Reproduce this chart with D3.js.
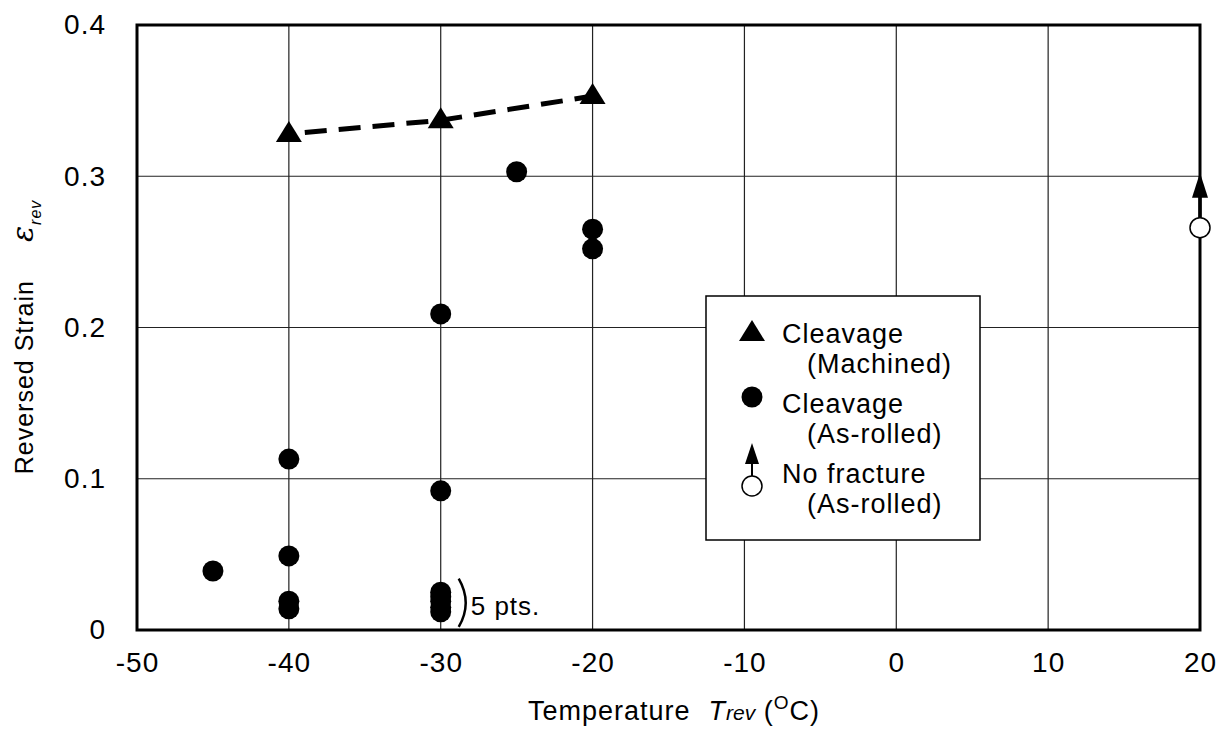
<!DOCTYPE html>
<html>
<head>
<meta charset="utf-8">
<script src="https://cdn.jsdelivr.net/npm/d3@7"></script>
<style>
  body { margin: 0; background: #fff; }
  text { font-family: "Liberation Sans", Arial, sans-serif; fill: #000; letter-spacing: 1px; }
</style>
</head>
<body>
<script>
// data
var xTicks = [-50, -40, -30, -20, -10, 0, 10, 20];
var yTicks = [0, 0.1, 0.2, 0.3, 0.4];

var machinedTemp = [-40, -30, -20];
var machinedStrain = [0.328, 0.337, 0.353];

var rolledTemp = [-45, -40, -40, -40, -40, -30, -30, -30, -30, -30, -30, -30, -25, -20, -20];
var rolledStrain = [0.039, 0.113, 0.049, 0.019, 0.014, 0.209, 0.092, 0.025, 0.022, 0.019, 0.015, 0.012, 0.303, 0.265, 0.252];

var noFracTemp = [20];
var noFracStrain = [0.266];

var legendText = [["Cleavage", "(Machined)"], ["Cleavage", "(As-rolled)"], ["No fracture", "(As-rolled)"]];

var width = 1229, height = 736;
var pLeft = 137, pRight = 1200, pTop = 25, pBottom = 630;

var x = d3.scaleLinear().domain([-50, 20]).range([pLeft, pRight]);
var y = d3.scaleLinear().domain([0, 0.4]).range([pBottom, pTop]);

var svg = d3.select("body").append("svg")
    .attr("width", width)
    .attr("height", height);

// grid
svg.append("g").selectAll("line")
    .data(xTicks.slice(1, -1))
    .enter().append("line")
    .attr("x1", function(d) { return x(d); })
    .attr("x2", function(d) { return x(d); })
    .attr("y1", pTop).attr("y2", pBottom)
    .style("stroke", "#222").style("stroke-width", 1.2);

svg.append("g").selectAll("line")
    .data(yTicks.slice(1, -1))
    .enter().append("line")
    .attr("y1", function(d) { return y(d); })
    .attr("y2", function(d) { return y(d); })
    .attr("x1", pLeft).attr("x2", pRight)
    .style("stroke", "#222").style("stroke-width", 1.2);

// tick labels via d3 axes (lines hidden)
var xAxis = svg.append("g")
    .attr("transform", "translate(0," + pBottom + ")")
    .call(d3.axisBottom(x).tickValues(xTicks).tickSize(0).tickPadding(22).tickFormat(function(d) { return String(d); }));
var yAxis = svg.append("g")
    .attr("transform", "translate(" + pLeft + ",0)")
    .call(d3.axisLeft(y).tickValues(yTicks).tickSize(0).tickPadding(31).tickFormat(function(d) { return d === 0 ? "0" : d3.format(".1f")(d); }));
svg.selectAll(".domain").remove();
svg.selectAll(".tick text")
    .attr("fill", "#000")
    .style("font-size", "28px")
    .style("font-family", "Liberation Sans, Arial, sans-serif");

// frame
svg.append("rect")
    .attr("x", pLeft).attr("y", pTop)
    .attr("width", pRight - pLeft).attr("height", pBottom - pTop)
    .style("fill", "none").style("stroke", "#000").style("stroke-width", 3);

// dashed trend through machined points
var line = d3.line()
    .x(function(d) { return x(d[0]); })
    .y(function(d) { return y(d[1]); });
svg.append("path")
    .datum(d3.zip(machinedTemp, machinedStrain))
    .attr("d", line)
    .style("fill", "none").style("stroke", "#000")
    .style("stroke-width", 5).style("stroke-dasharray", "22,12")
    .style("stroke-dashoffset", -16);

var tri = "M0,-13L13,8L-13,8Z";

svg.append("g").selectAll("path")
    .data(d3.zip(machinedTemp, machinedStrain))
    .enter().append("path")
    .attr("d", tri)
    .attr("transform", function(d) { return "translate(" + x(d[0]) + "," + y(d[1]) + ")"; })
    .style("fill", "#000");

svg.append("g").selectAll("circle")
    .data(d3.zip(rolledTemp, rolledStrain))
    .enter().append("circle")
    .attr("cx", function(d) { return x(d[0]); })
    .attr("cy", function(d) { return y(d[1]); })
    .attr("r", 10.5)
    .style("fill", "#000");

// no fracture: open circle with arrow up
var nf = svg.append("g").selectAll("g")
    .data(d3.zip(noFracTemp, noFracStrain))
    .enter().append("g")
    .attr("transform", function(d) { return "translate(" + x(d[0]) + "," + y(d[1]) + ")"; });
nf.append("line").attr("x1", 0).attr("x2", 0).attr("y1", -10).attr("y2", -32)
    .style("stroke", "#000").style("stroke-width", 3.5);
nf.append("path").attr("d", "M0,-55L8,-30L-8,-30Z").style("fill", "#000");
nf.append("circle").attr("r", 10)
    .style("fill", "#fff").style("stroke", "#000").style("stroke-width", 1.5);

// 5 pts. bracket
var bx = x(-30) + 18;
svg.append("path")
    .attr("d", "M" + bx + "," + y(0.034) + "Q" + (bx + 14) + "," + ((y(0.034) + y(0.002)) / 2) + " " + bx + "," + y(0.002))
    .style("fill", "none").style("stroke", "#000").style("stroke-width", 2.5);
svg.append("text")
    .attr("x", bx + 12).attr("y", y(0.010))
    .style("font-size", "26px")
    .text("5 pts.");

// legend
var lg = svg.append("g");
lg.append("rect")
    .attr("x", 706).attr("y", 296).attr("width", 274).attr("height", 244)
    .style("fill", "#fff").style("stroke", "#000").style("stroke-width", 1.5);

var rows = lg.selectAll("g.row")
    .data(legendText)
    .enter().append("g")
    .attr("class", "row")
    .attr("transform", function(d, i) { return "translate(0," + (i * 70) + ")"; });
rows.append("text").attr("x", 782).attr("y", 343).style("font-size", "27px")
    .text(function(d) { return d[0]; });
rows.append("text").attr("x", 807).attr("y", 373).style("font-size", "27px")
    .text(function(d) { return d[1]; });

lg.append("path").attr("d", tri).attr("transform", "translate(752,333)").style("fill", "#000");
lg.append("circle").attr("cx", 752).attr("cy", 397).attr("r", 10.5).style("fill", "#000");
lg.append("path").attr("d", "M752,443L759,464L745,464Z").style("fill", "#000");
lg.append("line").attr("x1", 752).attr("x2", 752).attr("y1", 462).attr("y2", 476)
    .style("stroke", "#000").style("stroke-width", 2);
lg.append("circle").attr("cx", 752).attr("cy", 486).attr("r", 10)
    .style("fill", "#fff").style("stroke", "#000").style("stroke-width", 1.5);

// axis titles
var xt = svg.append("text")
    .attr("x", 674).attr("y", 720)
    .attr("text-anchor", "middle")
    .style("font-size", "27px");
xt.append("tspan").text("Temperature");
xt.append("tspan").attr("dx", 18).style("font-style", "italic").text("T");
xt.append("tspan").style("font-style", "italic").style("font-size", "21px").style("letter-spacing", "0px").text("rev");
xt.append("tspan").text(" (");
xt.append("tspan").attr("dy", -11).style("font-size", "19px").text("O");
xt.append("tspan").attr("dy", 11).text("C)");

var yt = svg.append("text")
    .attr("transform", "translate(33,337) rotate(-90)")
    .attr("text-anchor", "middle")
    .style("font-size", "25px");
yt.append("tspan").text("Reversed Strain");
yt.append("tspan").attr("dx", 38).style("font-family", "DejaVu Serif, serif").style("font-style", "italic").style("font-size", "30px").text("ε");
yt.append("tspan").attr("dy", 8).style("font-style", "italic").style("font-size", "16px").text("rev");
</script>
</body>
</html>
